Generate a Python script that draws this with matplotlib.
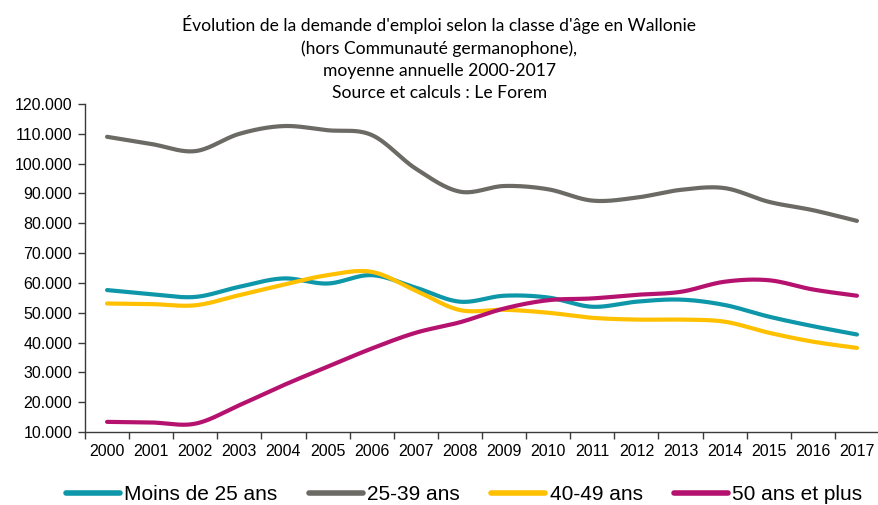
import numpy as np
import matplotlib
matplotlib.use("Agg")
import matplotlib.pyplot as plt
from matplotlib.ticker import FixedLocator, FuncFormatter

years = [str(y) for y in range(2000, 2018)]
moins25 = [57.6, 56.2, 55.3, 58.7, 61.5, 59.8, 62.6, 58.4, 53.7, 55.7, 55.1, 52.0, 53.7, 54.4, 52.6, 48.7, 45.5, 42.7]
a25_39 = [109.0, 106.6, 104.2, 110.0, 112.6, 111.2, 109.6, 98.3, 90.6, 92.5, 91.4, 87.6, 88.6, 91.2, 91.8, 87.2, 84.4, 80.8]
a40_49 = [53.1, 52.9, 52.5, 55.9, 59.4, 62.6, 63.7, 57.4, 50.9, 51.0, 50.0, 48.3, 47.7, 47.7, 47.0, 43.3, 40.3, 38.2]
plus50 = [13.4, 13.2, 12.8, 19.0, 25.7, 31.9, 38.0, 43.3, 46.8, 51.4, 54.2, 54.8, 56.0, 57.0, 60.4, 60.9, 57.8, 55.7]
series_names = ["Moins de 25 ans", "25-39 ans", "40-49 ans", "50 ans et plus"]
colors = ["#0E97A8", "#6C6A65", "#FFC000", "#B5126F"]

def smooth(xs, ys, n=30):
    xs = np.asarray(xs, float); ys = np.asarray(ys, float)
    P = np.column_stack([xs, ys])
    P = np.vstack([P[0], P, P[-1]])
    out = []
    for i in range(1, len(P) - 2):
        p0, p1, p2, p3 = P[i-1], P[i], P[i+1], P[i+2]
        c1 = p1 + (p2 - p0) / 6.0
        c2 = p2 - (p3 - p1) / 6.0
        t = np.linspace(0, 1, n)[:, None]
        b = (1-t)**3*p1 + 3*(1-t)**2*t*c1 + 3*(1-t)*t**2*c2 + t**3*p2
        out.append(b if i == 1 else b[1:])
    B = np.vstack(out)
    return B[:, 0], B[:, 1]

fig = plt.figure(figsize=(8.79, 5.05), dpi=100)
ax = fig.add_axes([85/879, 1-432/505, 794/879, 328/505])

x = np.arange(len(years))
data = [moins25, a25_39, a40_49, plus50]
for name, vals, c in zip(series_names, data, colors):
    sx, sy = smooth(x, [v*1000 for v in vals])
    ax.plot(sx, sy, color=c, lw=3, solid_capstyle='round', label=name)

ax.set_xlim(-0.5, len(years)-0.5)
ax.set_ylim(10000, 120000)
ax.set_yticks(np.arange(10000, 120001, 10000))
ax.yaxis.set_major_formatter(FuncFormatter(lambda v, p: f"{int(v):,}".replace(",", ".")))
ax.xaxis.set_major_locator(FixedLocator(np.arange(-0.5, len(years), 1.0)))
ax.xaxis.set_minor_locator(FixedLocator(x))
ax.xaxis.set_major_formatter(FuncFormatter(lambda v, p: ""))
ax.set_xticks(x, minor=True)
ax.set_xticklabels(years, minor=True)
ax.tick_params(axis='x', which='major', length=5, width=1, color='#3a3a3a', direction='out')
ax.tick_params(axis='x', which='minor', length=0, pad=9, labelsize=11.5, labelcolor='black')
ax.tick_params(axis='y', length=5, width=1, color='#3a3a3a', direction='out', labelsize=11.5, pad=4, labelcolor='black')
for lab in ax.get_xticklabels(minor=True) + ax.get_yticklabels():
    lab.set_family("Liberation Sans")
for s in ['top', 'right']:
    ax.spines[s].set_visible(False)
for s in ['left', 'bottom']:
    ax.spines[s].set_color('#3a3a3a')
    ax.spines[s].set_linewidth(1)

fig.text(0.5, 1-58/505, "Évolution de la demande d'emploi selon la classe d'âge en Wallonie\n(hors Communauté germanophone),\nmoyenne annuelle 2000-2017\nSource et calculs : Le Forem",
         ha='center', va='center', fontsize=12.6, family='Lato', linespacing=1.45)

leg = fig.legend(loc='center left', bbox_to_anchor=(66/879, 1-495/505), ncol=4, frameon=False,
                 handlelength=2.6, handletextpad=0.2, columnspacing=1.5, borderpad=0, borderaxespad=0,
                 prop={'family': 'Liberation Sans', 'size': 15})
for h in leg.get_lines():
    h.set_linewidth(4)
fig.savefig("out.png", dpi=100)
